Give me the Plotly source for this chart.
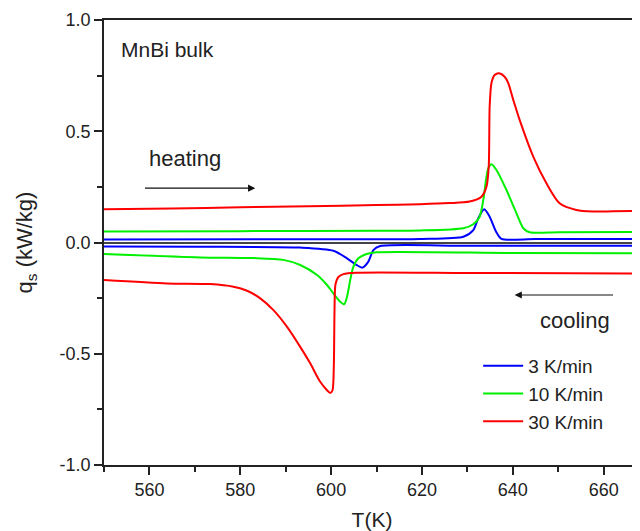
import plotly.graph_objects as go

# ---- data ----
T_heat_3 = [550, 590, 619.6, 629.1, 631.3, 632.4, 633.7, 634.9, 636.3, 637.5, 645, 668]
q_heat_3 = [0.014, 0.015, 0.016, 0.026, 0.056, 0.109, 0.149, 0.116, 0.049, 0.016, 0.016, 0.016]

T_cool_3 = [550, 571.2, 593.2, 600.5, 603.5, 605.6, 606.9, 608.2, 609.3, 610.8, 630, 668]
q_cool_3 = [-0.018, -0.019, -0.023, -0.037, -0.071, -0.101, -0.113, -0.086, -0.034, -0.016, -0.015, -0.015]

T_heat_10 = [550, 580, 610, 619.6, 629.1, 631.3, 632.7, 633.5, 634.1, 634.6, 635.3, 636.4,
             638.6, 640.8, 642.3, 643.7, 650, 668]
q_heat_10 = [0.049, 0.051, 0.053, 0.054, 0.064, 0.082, 0.116, 0.191, 0.281, 0.334, 0.352, 0.326,
             0.236, 0.131, 0.064, 0.046, 0.046, 0.047]

T_cool_10 = [550, 571.2, 583, 589.5, 593.2, 596.9, 599.1, 600.5, 602, 602.9, 603.5, 604.2, 604.9,
             606, 607.8, 610, 640, 668]
q_cool_10 = [-0.052, -0.067, -0.070, -0.078, -0.101, -0.146, -0.191, -0.229, -0.266, -0.277, -0.244,
             -0.169, -0.109, -0.071, -0.052, -0.044, -0.047, -0.048]

T_heat_30 = [550, 565, 580, 595, 610, 619.6, 626, 630.5, 633.1, 634.2, 634.7, 634.9, 635.3,
             636.0, 637.0, 638.2, 639.0, 640.1, 641.5, 644.5, 647.4, 650.3, 654, 657.6, 662, 668]
q_heat_30 = [0.149, 0.153, 0.158, 0.163, 0.168, 0.172, 0.177, 0.184, 0.206, 0.251, 0.341, 0.61,
             0.717, 0.753, 0.761, 0.745, 0.716, 0.641, 0.551, 0.386, 0.266, 0.176, 0.146, 0.139,
             0.140, 0.142]

T_cool_30 = [550, 563.9, 573.4, 578.5, 581.5, 584.4, 587.3, 590.3, 593.2, 595.4, 597.6, 599.8,
             600.3, 600.6, 600.75, 600.95, 601.6, 602.7, 605.6, 630, 668]
q_cool_30 = [-0.169, -0.184, -0.187, -0.199, -0.217, -0.251, -0.304, -0.379, -0.469, -0.543, -0.626,
             -0.676, -0.665, -0.55, -0.30, -0.19, -0.155, -0.142, -0.136, -0.137, -0.139]

rate_labels = ["3 K/min", "10 K/min", "30 K/min"]
colors = ["#0000FF", "#00F000", "#FF0000"]

x_ticks = [560, 580, 600, 620, 640, 660]
y_ticks = [-1.0, -0.5, 0.0, 0.5, 1.0]
y_tick_text = ["-1.0", "-0.5", "0.0", "0.5", "1.0"]

FONT = "Liberation Sans, Arial, sans-serif"

fig = go.Figure()
series = [
    (T_heat_3, q_heat_3, T_cool_3, q_cool_3),
    (T_heat_10, q_heat_10, T_cool_10, q_cool_10),
    (T_heat_30, q_heat_30, T_cool_30, q_cool_30),
]
for (th, qh, tc, qc), name, col in zip(series, rate_labels, colors):
    fig.add_trace(go.Scatter(x=th, y=qh, mode="lines", name=name, legendgroup=name,
                             line=dict(color=col, width=2, shape="spline", smoothing=0.7)))
    fig.add_trace(go.Scatter(x=tc, y=qc, mode="lines", name=name, legendgroup=name, showlegend=False,
                             line=dict(color=col, width=2, shape="spline", smoothing=0.7)))

axis_common = dict(
    showgrid=False, showline=True, linecolor="#222", linewidth=1.5,
    ticks="outside", ticklen=8, tickwidth=1.5, tickcolor="#222", automargin=False,
    tickfont=dict(family=FONT, size=18, color="#222"),
)

# the page body adds an 8px offset; figure sized so the plot lands where the reference has it
W, H = 632, 523
L, R, T, B = 95.5, 0, 12, 66
PW, PH = W - L - R, H - T - B
fig.update_layout(
    width=W, height=H,
    margin=dict(l=L, r=R, t=T, b=B),
    paper_bgcolor="white", plot_bgcolor="white",
    font=dict(family=FONT, color="#222"),
    xaxis=dict(range=[550, 668], tickvals=x_ticks, mirror=True,
               minor=dict(dtick=10, tick0=550, ticklen=5, ticks="outside", tickcolor="#222", tickwidth=1.5),
               title=dict(text="T(K)", font=dict(family=FONT, size=21), standoff=13),
               zeroline=False, **axis_common),
    yaxis=dict(range=[-1.0, 1.0], tickvals=y_ticks, ticktext=y_tick_text,
               minor=dict(dtick=0.25, tick0=0, ticklen=5, ticks="outside", tickcolor="#222", tickwidth=1.5),
               title=dict(text="q<sub>s</sub> (kW/kg)", font=dict(family=FONT, size=22), standoff=21),
               zeroline=True, zerolinecolor="#444", zerolinewidth=1.5, **axis_common),
    legend=dict(x=(470 - L) / PW, y=(T + PH - 339) / PH, xanchor="left", yanchor="top",
                bgcolor="rgba(0,0,0,0)", font=dict(family=FONT, size=19, color="#222"),
                tracegroupgap=0, itemwidth=40),
    showlegend=True,
)

fig.add_annotation(x=564.0, y=0.866, text="MnBi bulk", showarrow=False,
                   font=dict(family=FONT, size=21, color="#222"))
fig.add_annotation(x=567.8, y=0.376, text="heating", showarrow=False,
                   font=dict(family=FONT, size=22, color="#222"))
fig.add_annotation(x=653.6, y=-0.350, text="cooling", showarrow=False,
                   font=dict(family=FONT, size=22, color="#222"))
# arrows
fig.add_annotation(x=583.3, y=0.244, ax=558.7, ay=0.244, axref="x", ayref="y", xref="x", yref="y",
                   text="", showarrow=True, arrowhead=2, arrowsize=1.2, arrowwidth=1.2, arrowcolor="#111")
fig.add_annotation(x=640.4, y=-0.236, ax=662.4, ay=-0.236, axref="x", ayref="y", xref="x", yref="y",
                   text="", showarrow=True, arrowhead=2, arrowsize=1.2, arrowwidth=1.2, arrowcolor="#111")

fig.write_html("out.html")
